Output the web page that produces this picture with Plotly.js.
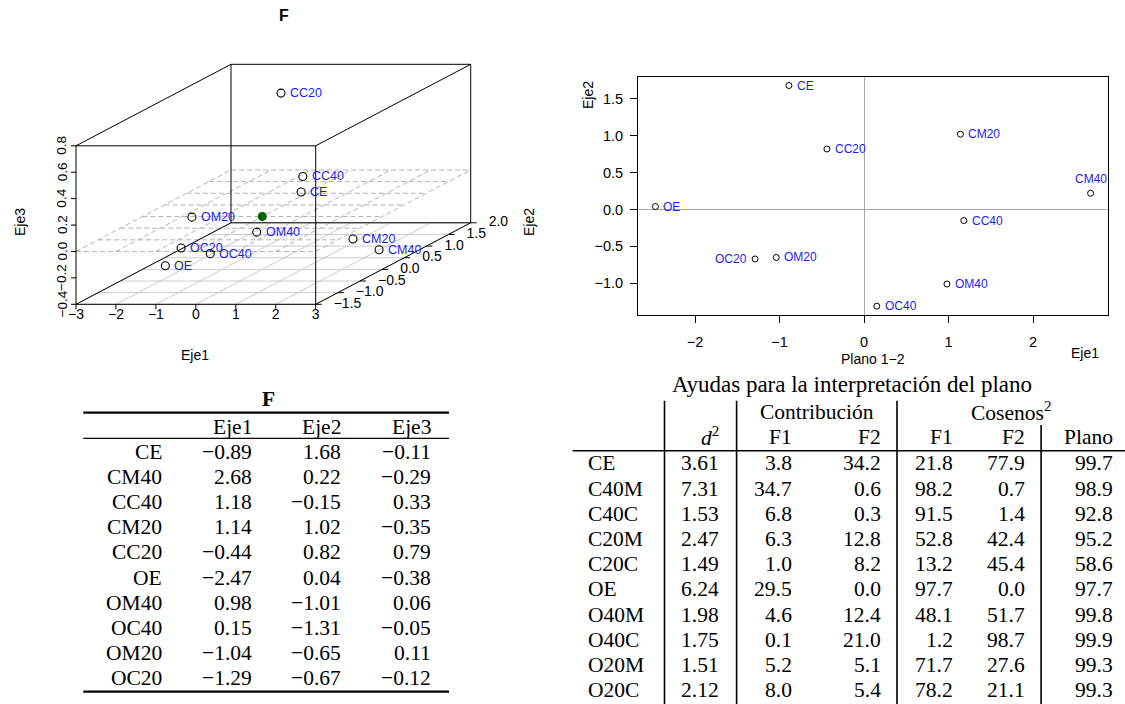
<!DOCTYPE html>
<html><head><meta charset="utf-8">
<script src="https://cdn.plot.ly/plotly-3.0.1.min.js"></script>
<style>html,body{margin:0;padding:0;background:#fff}#plot{width:1125px;height:704px}</style>
</head><body><div id="plot"></div><script>
// ---------------- DATA ----------------
const labels = ['CE','CM40','CC40','CM20','CC20','OE','OM40','OC40','OM20','OC20'];
const eje1 = [-0.89, 2.68, 1.18, 1.14, -0.44, -2.47, 0.98, 0.15, -1.04, -1.29];
const eje2 = [1.68, 0.22, -0.15, 1.02, 0.82, 0.04, -1.01, -1.31, -0.65, -0.67];
const eje3 = [-0.11, -0.29, 0.33, -0.35, 0.79, -0.38, 0.06, -0.05, 0.11, -0.12];
const centroid = [0, 0, 0];
const ticks3dX = [-3, -2, -1, 0, 1, 2, 3];
const ticks3dY = [-1.5, -1.0, -0.5, 0.0, 0.5, 1.0, 1.5, 2.0];
const ticks3dZ = [-0.4, -0.2, 0.0, 0.2, 0.4, 0.6, 0.8];
const ticks2dX = [-2, -1, 0, 1, 2];
const ticks2dY = [-1.0, -0.5, 0.0, 0.5, 1.0, 1.5];

const ayudaRows = ['CE','C40M','C40C','C20M','C20C','OE','O40M','O40C','O20M','O20C'];
const d2     = [3.61, 7.31, 1.53, 2.47, 1.49, 6.24, 1.98, 1.75, 1.51, 2.12];
const contF1 = [3.8, 34.7, 6.8, 6.3, 1.0, 29.5, 4.6, 0.1, 5.2, 8.0];
const contF2 = [34.2, 0.6, 0.3, 12.8, 8.2, 0.0, 12.4, 21.0, 5.1, 5.4];
const cosF1  = [21.8, 98.2, 91.5, 52.8, 13.2, 97.7, 48.1, 1.2, 71.7, 78.2];
const cosF2  = [77.9, 0.7, 1.4, 42.4, 45.4, 0.0, 51.7, 98.7, 27.6, 21.1];
const plano  = [99.7, 98.9, 92.8, 95.2, 58.6, 97.7, 99.8, 99.9, 99.3, 99.3];

// ---------------- HELPERS ----------------
const W = 1125, H = 704;
const PX = v => v / W, PY = v => 1 - v / H;
const fmt = (v, d) => (v < 0 ? '\u2212' : '') + Math.abs(v).toFixed(d);
const SANS = 'Liberation Sans, Arial, sans-serif';
const SERIF = 'Liberation Serif, Times New Roman, serif';
const BLUE = '#1a1aff';

// ---------------- 3D (scatterplot3d-style oblique projection) ----------------
const G = {L: 76, R: 315.7, B: 304.3, T: 145.8, DX: 155, DY: 81.5, right: 508, bottom: 370};
const xr = [ticks3dX[0], ticks3dX[ticks3dX.length - 1]];
const yr = [ticks3dY[0], ticks3dY[ticks3dY.length - 1]];
const zr = [ticks3dZ[0], ticks3dZ[ticks3dZ.length - 1]];
const kx = (G.R - G.L) / (xr[1] - xr[0]);
const kz = (G.B - G.T) / (zr[1] - zr[0]);
const DXu = G.DX / kx, DZu = G.DY / kz;
function proj(x, y, z) { const d = (y - yr[0]) / (yr[1] - yr[0]); return [x + d * DXu, z + d * DZu]; }
function segs(list) {
  const xs = [], ys = [];
  list.forEach(([a, b]) => { const p = proj(...a), q = proj(...b); xs.push(p[0], q[0], null); ys.push(p[1], q[1], null); });
  return {x: xs, y: ys};
}
const x2range = [xr[0] - G.L / kx, xr[0] + (G.right - G.L) / kx];
const y2range = [zr[0] - (G.bottom - G.B) / kz, zr[0] + G.B / kz];

const gridBottom = [], planeZero = [];
ticks3dY.forEach(y => { gridBottom.push([[xr[0], y, zr[0]], [xr[1], y, zr[0]]]); planeZero.push([[xr[0], y, 0], [xr[1], y, 0]]); });
ticks3dX.forEach(x => { gridBottom.push([[x, yr[0], zr[0]], [x, yr[1], zr[0]]]); planeZero.push([[x, yr[0], 0], [x, yr[1], 0]]); });

const boxEdges = [];
[yr[0], yr[1]].forEach(y => {
  boxEdges.push([[xr[0], y, zr[0]], [xr[1], y, zr[0]]], [[xr[0], y, zr[1]], [xr[1], y, zr[1]]],
                [[xr[0], y, zr[0]], [xr[0], y, zr[1]]], [[xr[1], y, zr[0]], [xr[1], y, zr[1]]]);
});
[[xr[0], zr[0]], [xr[1], zr[0]], [xr[0], zr[1]], [xr[1], zr[1]]].forEach(([x, z]) => boxEdges.push([[x, yr[0], z], [x, yr[1], z]]));

const tickSegs = [];
ticks3dX.forEach(x => tickSegs.push([[x, yr[0], zr[0]], [x, yr[0], zr[0] - 5 / kz]]));
ticks3dZ.forEach(z => tickSegs.push([[xr[0], yr[0], z], [xr[0] - 5 / kx, yr[0], z]]));
ticks3dY.forEach(y => tickSegs.push([[xr[1], y, zr[0]], [xr[1] + 6 / kx, y, zr[0]]]));

const traces = [];
const g1 = segs(gridBottom), g2 = segs(planeZero), bx = segs(boxEdges), tk = segs(tickSegs);
traces.push({type: 'scatter', mode: 'lines', xaxis: 'x2', yaxis: 'y2', x: g1.x, y: g1.y, line: {color: '#cccccc', width: 1}, hoverinfo: 'skip'});
traces.push({type: 'scatter', mode: 'lines', xaxis: 'x2', yaxis: 'y2', x: g2.x, y: g2.y, line: {color: '#b4b4b4', width: 1, dash: '5px,3px'}, hoverinfo: 'skip'});
traces.push({type: 'scatter', mode: 'lines', xaxis: 'x2', yaxis: 'y2', x: bx.x, y: bx.y, line: {color: '#000', width: 1}, hoverinfo: 'skip'});
traces.push({type: 'scatter', mode: 'lines', xaxis: 'x2', yaxis: 'y2', x: tk.x, y: tk.y, line: {color: '#000', width: 1}, hoverinfo: 'skip'});

const P3 = labels.map((_, i) => proj(eje1[i], eje2[i], eje3[i]));
traces.push({type: 'scatter', mode: 'markers', xaxis: 'x2', yaxis: 'y2', x: P3.map(p => p[0]), y: P3.map(p => p[1]),
  marker: {symbol: 'circle-open', size: 8, color: '#000', line: {width: 1.1, color: '#000'}}, hoverinfo: 'skip'});
const C3 = proj(...centroid);
traces.push({type: 'scatter', mode: 'markers', xaxis: 'x2', yaxis: 'y2', x: [C3[0]], y: [C3[1]],
  marker: {symbol: 'circle', size: 9, color: '#006400'}, hoverinfo: 'skip'});

// y tick labels (clipped at panel edge)
const yl = ticks3dY.map(y => proj(xr[1] + 18 / kx, y, zr[0]));
traces.push({type: 'scatter', mode: 'text', xaxis: 'x2', yaxis: 'y2', x: yl.map(p => p[0]), y: yl.map(p => p[1]),
  text: ticks3dY.map(v => fmt(v, 1)), textposition: 'middle right', textfont: {family: SANS, size: 14, color: '#000'},
  cliponaxis: true, hoverinfo: 'skip'});
// x tick labels
const xl = ticks3dX.map(x => proj(x, yr[0], zr[0] - 11 / kz));
traces.push({type: 'scatter', mode: 'text', xaxis: 'x2', yaxis: 'y2', x: xl.map(p => p[0]), y: xl.map(p => p[1]),
  text: ticks3dX.map(v => fmt(v, 0)), textposition: 'middle center', textfont: {family: SANS, size: 14, color: '#000'},
  cliponaxis: false, hoverinfo: 'skip'});

// ---------------- 2D plane ----------------
const spanX = Math.max(...eje1) - Math.min(...eje1), spanY = Math.max(...eje2) - Math.min(...eje2);
const x3range = [Math.min(...eje1) - 0.04 * spanX, Math.max(...eje1) + 0.04 * spanX];
const y3range = [Math.min(...eje2) - 0.04 * spanY, Math.max(...eje2) + 0.04 * spanY];
traces.push({type: 'scatter', mode: 'markers', xaxis: 'x3', yaxis: 'y3', x: eje1, y: eje2,
  marker: {symbol: 'circle-open', size: 6, color: '#000', line: {width: 1, color: '#000'}}, hoverinfo: 'skip'});

// ---------------- ANNOTATIONS ----------------
const ann = [];
function pAnn(x, y, text, size, extra) {
  ann.push(Object.assign({xref: 'paper', yref: 'paper', x: PX(x), y: PY(y), text: text, showarrow: false,
    xanchor: 'center', yanchor: 'middle', font: {family: SANS, size: size, color: '#000'}}, extra || {}));
}
// 3D point labels
labels.forEach((l, i) => ann.push({xref: 'x2', yref: 'y2', x: P3[i][0], y: P3[i][1], text: l, showarrow: false,
  xanchor: 'left', yanchor: 'middle', xshift: 7, font: {family: SANS, size: 12.5, color: BLUE}}));
// z tick labels (rotated)
ticks3dZ.forEach(z => { const p = proj(xr[0], yr[0], z); ann.push({xref: 'x2', yref: 'y2', x: p[0], y: p[1], text: fmt(z, 1),
  showarrow: false, textangle: -90, xanchor: 'center', yanchor: 'middle', xshift: -14, font: {family: SANS, size: 13.5, color: '#000'}}); });
// 3D titles
pAnn(284, 15, '<b>F</b>', 16);
pAnn(195, 355, 'Eje1', 14);
pAnn(20, 222, 'Eje3', 14, {textangle: -90});
pAnn(529, 222, 'Eje2', 14, {textangle: -90});

// 2D point labels
const side2D = {OC20: 'left', CM40: 'top'};
labels.forEach((l, i) => {
  const s = side2D[l] || 'right';
  const a = {xref: 'x3', yref: 'y3', x: eje1[i], y: eje2[i], text: l, showarrow: false, font: {family: SANS, size: 12, color: BLUE}};
  if (s === 'right') Object.assign(a, {xanchor: 'left', yanchor: 'middle', xshift: 6});
  if (s === 'left') Object.assign(a, {xanchor: 'right', yanchor: 'middle', xshift: -6});
  if (s === 'top') Object.assign(a, {xanchor: 'center', yanchor: 'bottom', yshift: 5});
  ann.push(a);
});
pAnn(873, 359, 'Plano 1\u22122', 14);
pAnn(1085, 353, 'Eje1', 14);
pAnn(588, 95, 'Eje2', 14, {textangle: -90});

// ---------------- TABLES ----------------
const TF = {family: SERIF, size: 21.5, color: '#000'};
function txt(x, y, t, anchor, size) { ann.push({xref: 'paper', yref: 'paper', x: PX(x), y: PY(y), text: t, showarrow: false, xanchor: anchor, yanchor: 'middle',
  font: Object.assign({}, TF, size ? {size: size} : {})}); }
const shapes = [];
function hline(x0, x1, y, w) { shapes.push({type: 'line', xref: 'paper', yref: 'paper', x0: PX(x0), x1: PX(x1), y0: PY(y), y1: PY(y), line: {color: '#000', width: w}}); }
function vline(x, y0, y1, w) { shapes.push({type: 'line', xref: 'paper', yref: 'paper', x0: PX(x), x1: PX(x), y0: PY(y0), y1: PY(y1), line: {color: '#000', width: w}}); }

// Table F
const t1 = {labR: 161.7, cols: [251.7, 340.7, 430.7], row0: 451.5, dy: 25.2};
txt(268.3, 399, '<b>F</b>', 'center');
['Eje1', 'Eje2', 'Eje3'].forEach((h, j) => txt(t1.cols[j] + 2, 426.7, h, 'right'));
labels.forEach((l, i) => {
  const y = t1.row0 + i * t1.dy;
  txt(t1.labR + 2, y, l, 'right');
  [eje1, eje2, eje3].forEach((arr, j) => txt(t1.cols[j] + 2, y, fmt(arr[i], 2), 'right'));
});
hline(83.3, 449, 412.7, 2.2); hline(83.3, 449, 438.3, 1.3); hline(83.3, 449, 691.7, 2.2);

// Table Ayudas
const t2 = {labL: 588, cols: [718.6, 792.4, 880.7, 952.8, 1024.9, 1113.2], row0: 463.3, dy: 25.2};
txt(851.9, 384, 'Ayudas para la interpretación del plano', 'center', 23);
txt(816.8, 411.7, 'Contribución', 'center');
txt(1011, 411.7, 'Cosenos<sup>2</sup>', 'center');
['<i>d</i><sup>2</sup>', 'F1', 'F2', 'F1', 'F2', 'Plano'].forEach((h, j) => txt(t2.cols[j] + 2, 436.7, h, 'right'));
ayudaRows.forEach((l, i) => {
  const y = t2.row0 + i * t2.dy;
  txt(t2.labL - 2, y, l, 'left');
  txt(t2.cols[0] + 2, y, d2[i].toFixed(2), 'right');
  [contF1, contF2, cosF1, cosF2, plano].forEach((arr, j) => txt(t2.cols[j + 1] + 2, y, arr[i].toFixed(1), 'right'));
});
hline(572.6, 1125, 450.7, 1.6);
[664.5, 736.6, 897].forEach(x => vline(x, 400.7, 704, 1.6));
vline(1041.1, 425, 704, 1.6);

// ---------------- LAYOUT ----------------
const layout = {
  width: W, height: H, margin: {l: 0, r: 0, t: 0, b: 0}, paper_bgcolor: '#fff', plot_bgcolor: 'rgba(0,0,0,0)',
  showlegend: false,
  xaxis2: {domain: [0, G.right / W], range: x2range, visible: false, fixedrange: true},
  yaxis2: {domain: [PY(G.bottom), 1], range: y2range, visible: false, fixedrange: true},
  xaxis3: {domain: [PX(638), PX(1108)], range: x3range, showgrid: false, zeroline: true, zerolinecolor: '#a8a8a8', zerolinewidth: 1,
    showline: true, mirror: true, linecolor: '#000', linewidth: 1, ticks: 'outside', ticklen: 7, tickcolor: '#000',
    tickvals: ticks2dX, ticktext: ticks2dX.map(v => fmt(v, 0)), ticklabelstandoff: 7,
    tickfont: {family: SANS, size: 14.5, color: '#000'}, anchor: 'y3'},
  yaxis3: {domain: [PY(315), PY(76.7)], range: y3range, showgrid: false, zeroline: true, zerolinecolor: '#a8a8a8', zerolinewidth: 1,
    showline: true, mirror: true, linecolor: '#000', linewidth: 1, ticks: 'outside', ticklen: 7, tickcolor: '#000',
    tickvals: ticks2dY, ticktext: ticks2dY.map(v => fmt(v, 1)), ticklabelstandoff: 4,
    tickfont: {family: SANS, size: 14.5, color: '#000'}, anchor: 'x3'},
  annotations: ann, shapes: shapes
};
Plotly.newPlot('plot', traces, layout, {staticPlot: true, displayModeBar: false});
</script></body></html>
